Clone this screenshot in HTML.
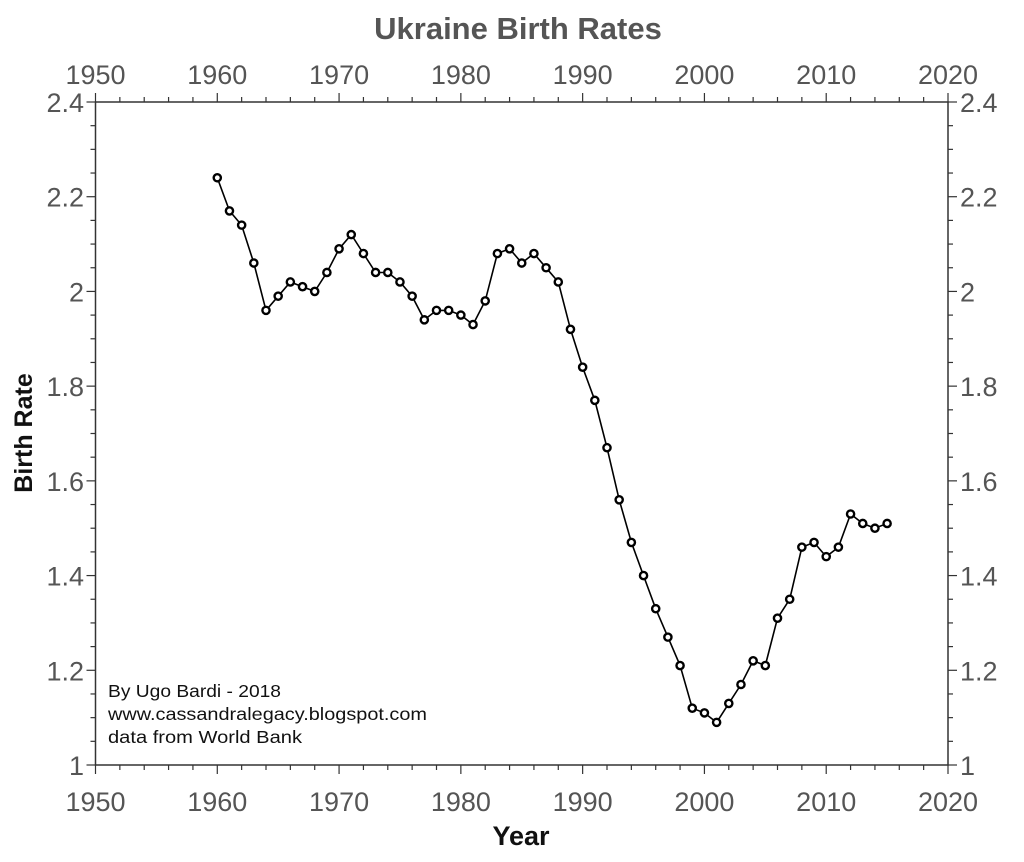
<!DOCTYPE html>
<html><head><meta charset="utf-8"><style>
html,body{margin:0;padding:0;background:#fff;}
svg{display:block;font-family:"Liberation Sans",sans-serif;}
</style></head><body>
<svg id="s" width="1024" height="862" viewBox="0 0 1024 862">
<text x="518" y="39" text-anchor="middle" font-size="31" font-weight="bold" fill="#555">Ukraine Birth Rates</text>
<text x="521" y="845" text-anchor="middle" font-size="27" font-weight="bold" fill="#111">Year</text>
<text transform="translate(32,433) rotate(-90)" text-anchor="middle" font-size="25" font-weight="bold" fill="#111">Birth Rate</text>
<rect x="95.5" y="102" width="852.5" height="663" fill="none" stroke="#333" stroke-width="1.5"/>
<g id="t" stroke="#333" stroke-width="1.2"></g>
<g id="l" font-size="27" fill="#555"></g>
<g font-size="17.5" fill="#111">
<text x="108" y="697" textLength="173" lengthAdjust="spacingAndGlyphs">By Ugo Bardi - 2018</text>
<text x="108" y="720" textLength="319" lengthAdjust="spacingAndGlyphs">www.cassandralegacy.blogspot.com</text>
<text x="108" y="743" textLength="194" lengthAdjust="spacingAndGlyphs">data from World Bank</text>
</g>
<g id="d"></g>
</svg>
<script>
const X=y=>95.5+(y-1950)*852.5/70, Y=v=>765-(v-1)*663/1.4;
let t='',l='';
for(let y=1950;y<=2020;y+=2){const x=X(y),m=(y%10==0)?9:5;
t+=`<line x1="${x}" y1="765" x2="${x}" y2="${765+m}"/><line x1="${x}" y1="102" x2="${x}" y2="${102-m}"/>`;
if(y%10==0){l+=`<text x="${x}" y="811" text-anchor="middle">${y}</text><text x="${x}" y="84" text-anchor="middle">${y}</text>`;}}
for(let i=0;i<=28;i++){const v=1+i*0.05,y=Y(v),m=(i%4==0)?9:5;
t+=`<line x1="95.5" y1="${y}" x2="${95.5-m}" y2="${y}"/><line x1="948" y1="${y}" x2="${948+m}" y2="${y}"/>`;
if(i%4==0){const s=(Math.round(v*10)/10).toString();l+=`<text x="84" y="${y+10}" text-anchor="end">${s}</text><text x="960" y="${y+10}">${s}</text>`;}}
document.getElementById('t').innerHTML=t;document.getElementById('l').innerHTML=l;
const d=[2.24,2.17,2.14,2.06,1.96,1.99,2.02,2.01,2.00,2.04,2.09,2.12,2.08,2.04,2.04,2.02,1.99,1.94,1.96,1.96,1.95,1.93,1.98,2.08,2.09,2.06,2.08,2.05,2.02,1.92,1.84,1.77,1.67,1.56,1.47,1.40,1.33,1.27,1.21,1.12,1.11,1.09,1.13,1.17,1.22,1.21,1.31,1.35,1.46,1.47,1.44,1.46,1.53,1.51,1.50,1.51];
let p=d.map((v,i)=>X(1960+i).toFixed(1)+','+Y(v).toFixed(1)).join(' ');
let h=`<polyline points="${p}" fill="none" stroke="#000" stroke-width="1.6"/>`;
d.forEach((v,i)=>h+=`<circle cx="${X(1960+i)}" cy="${Y(v)}" r="3.6" fill="#fff" stroke="#000" stroke-width="2.4"/>`);
document.getElementById('d').innerHTML=h;
</script>
</body></html>
